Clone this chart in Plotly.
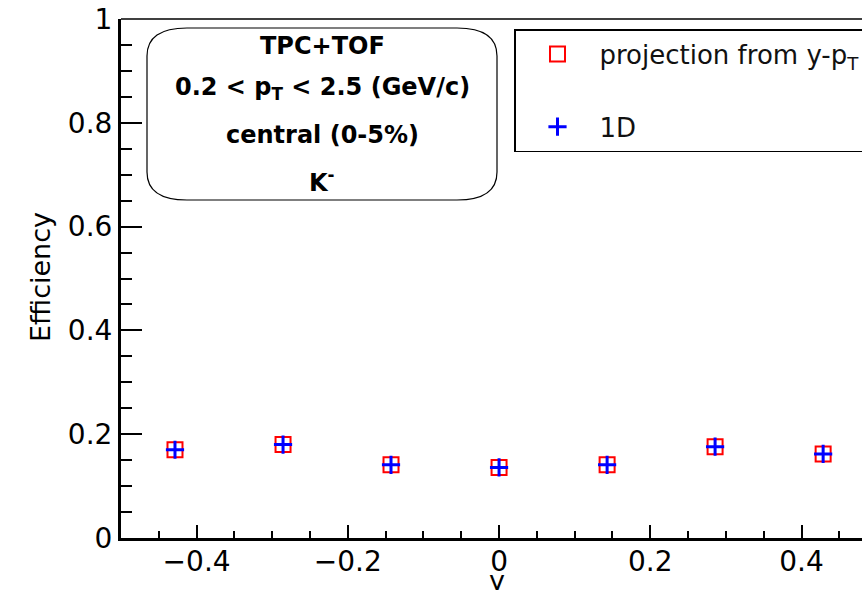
import plotly.graph_objects as go

# Rapidity bins: 7 equal bins spanning -0.5 < y < 0.5
y_bin_centers = [-0.4286, -0.2857, -0.1429, 0.0, 0.1429, 0.2857, 0.4286]

# K- efficiency per rapidity bin
eff_projection = [0.170, 0.180, 0.141, 0.136, 0.141, 0.176, 0.162]
eff_1d = [0.170, 0.180, 0.141, 0.136, 0.141, 0.176, 0.162]

series_names = ["projection from y-p<sub>T</sub>", "1D"]

FONT = "DejaVu Sans, Liberation Sans, Arial, sans-serif"

W, H = 862, 590
ML, MR, MT, MB = 121, 0, 19, 52
PW, PH = W - ML - MR, H - MT - MB


def px(x):
    return (x - ML) / PW


def py(y):
    return (H - MB - y) / PH


fig = go.Figure()

fig.add_trace(go.Scatter(
    x=y_bin_centers, y=eff_projection, mode="markers", name=series_names[0],
    legendgroup="a",
    marker=dict(symbol="square-open", size=15, color="#ff0000",
                line=dict(width=2, color="#ff0000")),
))
fig.add_trace(go.Scatter(
    x=y_bin_centers, y=eff_1d, mode="markers", name=series_names[1],
    legendgroup="b",
    marker=dict(symbol="cross-thin", size=13, color="#0000ff",
                line=dict(width=3, color="#0000ff")),
))

axis_common = dict(
    showline=True, linewidth=3, linecolor="black",
    ticks="inside", tickwidth=2, tickcolor="black",
    showgrid=False, zeroline=False,
    tickfont=dict(family=FONT, size=28, color="black"),
)

fig.update_xaxes(
    range=[-0.5, 0.48], tick0=0, dtick=0.2, ticklen=13,
    ticklabelstandoff=-4,
    minor=dict(dtick=0.05, tick0=0, ticks="inside", ticklen=7,
               tickwidth=2, tickcolor="black", showgrid=False),
    **axis_common,
)
fig.update_yaxes(
    range=[0, 1], tick0=0, dtick=0.2, ticklen=21,
    minor=dict(dtick=0.05, tick0=0, ticks="inside", ticklen=11,
               tickwidth=2, tickcolor="black", showgrid=False),
    **axis_common,
)

# frame line along the top of the pad
shapes = [dict(type="line", xref="paper", yref="paper", x0=0, x1=1, y0=1, y1=1,
               line=dict(color="black", width=1.5))]

# rounded info box
bx0, bx1, by0, by1 = px(147), px(497), py(200), py(28)
rx, ry = 40 / PW, 28 / PH
path = (f"M {bx0 + rx},{by1} L {bx1 - rx},{by1} Q {bx1},{by1} {bx1},{by1 - ry} "
        f"L {bx1},{by0 + ry} Q {bx1},{by0} {bx1 - rx},{by0} "
        f"L {bx0 + rx},{by0} Q {bx0},{by0} {bx0},{by0 + ry} "
        f"L {bx0},{by1 - ry} Q {bx0},{by1} {bx0 + rx},{by1} Z")
shapes.append(dict(type="path", xref="paper", yref="paper", path=path,
                   line=dict(color="black", width=1.2), fillcolor="white",
                   layer="below"))

box_lines = [
    ("<b>TPC+TOF</b>", 46),
    ("<b>0.2 &lt; p<sub>T</sub> &lt; 2.5 (GeV/c)</b>", 88),
    ("<b>central (0-5%)</b>", 135),
    ("<b>K<sup>-</sup></b>", 181),
]
annotations = []
for txt, ypix in box_lines:
    annotations.append(dict(
        text=txt, x=px(322), y=py(ypix), xref="paper", yref="paper",
        xanchor="center", yanchor="middle", showarrow=False,
        font=dict(family=FONT, size=24, color="black"),
    ))

# axis titles
annotations.append(dict(
    text="Efficiency", x=px(40), y=py(277), xref="paper", yref="paper",
    xanchor="center", yanchor="middle", textangle=-90, showarrow=False,
    font=dict(family=FONT, size=27, color="black"),
))
annotations.append(dict(
    text="y", x=px(497), y=py(580), xref="paper", yref="paper",
    xanchor="center", yanchor="middle", showarrow=False,
    font=dict(family=FONT, size=27, color="black"),
))

fig.update_layout(
    width=W, height=H,
    margin=dict(l=ML, r=MR, t=MT, b=MB, pad=0, autoexpand=False),
    paper_bgcolor="white", plot_bgcolor="white",
    shapes=shapes, annotations=annotations,
    showlegend=True,
    legend=dict(
        x=px(514), y=py(29), xanchor="left", yanchor="top",
        bgcolor="white", bordercolor="black", borderwidth=1.5,
        font=dict(family=FONT, size=26, color="#111111"),
        traceorder="grouped", tracegroupgap=36, itemwidth=74,
    ),
)

fig.write_html("out.html")
